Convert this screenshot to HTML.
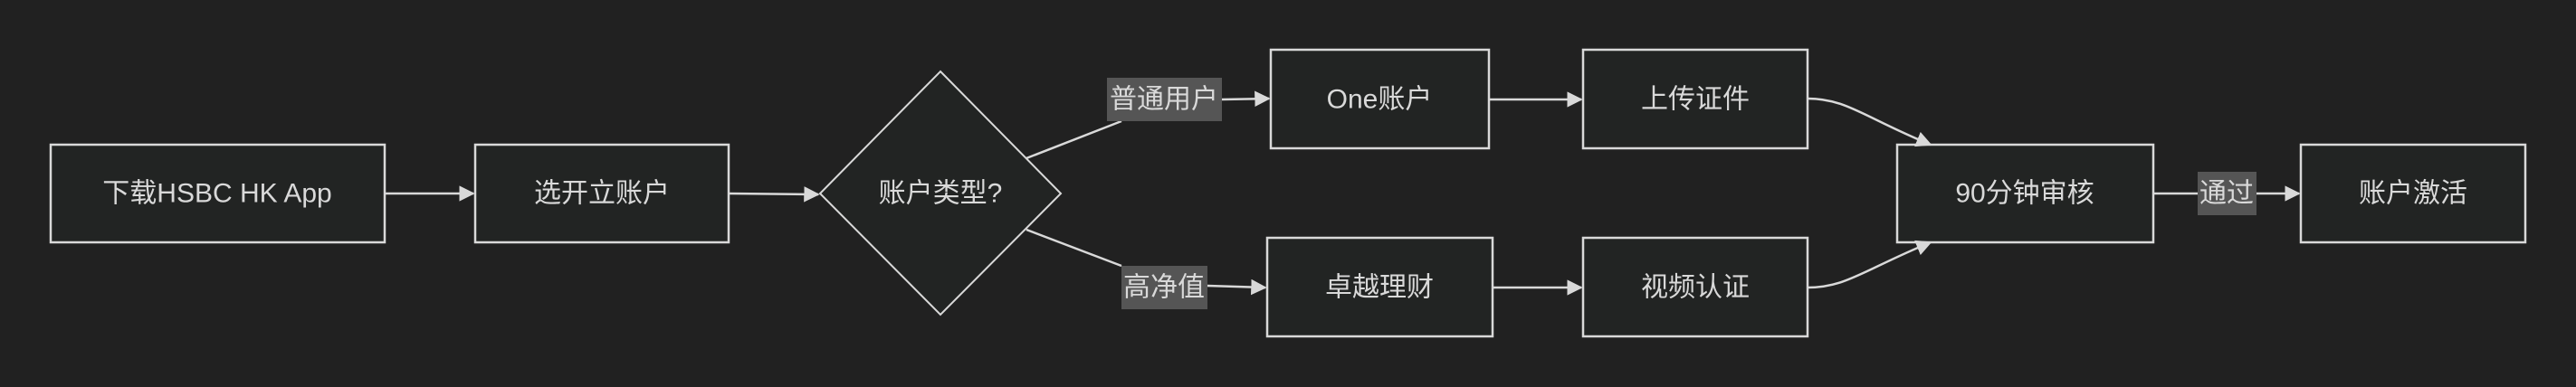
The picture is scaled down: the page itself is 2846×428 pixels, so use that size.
<!DOCTYPE html>
<html><head><meta charset="utf-8"><style>
html,body{margin:0;padding:0;background:#212121;}
svg{display:block}
text{font-family:"Liberation Sans","Noto Sans CJK SC",sans-serif;font-size:30px;fill:#d9d9d9;text-anchor:middle;dominant-baseline:central}
</style></head><body>
<svg width="2846" height="428" viewBox="0 0 2846 428" xmlns="http://www.w3.org/2000/svg">
<defs><marker id="a" viewBox="0 0 10 10" refX="9" refY="5" markerWidth="7" markerHeight="7" orient="auto"><path d="M0,0L10,5L0,10z" fill="#d9d9d9"/></marker></defs>
<g fill="#222423" stroke="#d9d9d9" stroke-width="2.5">
<rect x="56" y="160" width="369" height="108"/>
<rect x="525" y="160" width="280" height="108"/>
<polygon points="1039,79 1172,214 1039,348 906,214" stroke-width="2"/>
<rect x="1404" y="55" width="241" height="109"/>
<rect x="1400" y="263" width="249" height="109"/>
<rect x="1749" y="55" width="248" height="109"/>
<rect x="1749" y="263" width="248" height="109"/>
<rect x="2096" y="160" width="283" height="108"/>
<rect x="2542" y="160" width="248" height="108"/>
</g>
<g stroke="#d9d9d9" stroke-width="2.5" fill="none">
<line x1="425" y1="214" x2="523" y2="214" marker-end="url(#a)"/>
<line x1="805" y1="214" x2="904" y2="215" marker-end="url(#a)"/>
<line x1="1134" y1="175" x2="1239" y2="134"/>
<line x1="1350" y1="110" x2="1402" y2="109" marker-end="url(#a)"/>
<line x1="1134" y1="254" x2="1239" y2="294"/>
<line x1="1334" y1="316" x2="1398" y2="318" marker-end="url(#a)"/>
<line x1="1645" y1="110" x2="1747" y2="110" marker-end="url(#a)"/>
<line x1="1649" y1="318" x2="1747" y2="318" marker-end="url(#a)"/>
<path d="M1997,109 C2040,109 2060,130 2133,160" marker-end="url(#a)"/>
<path d="M1997,318 C2040,318 2060,298 2133,268" marker-end="url(#a)"/>
<line x1="2379" y1="214" x2="2540" y2="214" marker-end="url(#a)"/>
</g>
<g fill="#555">
<rect x="1223" y="86" width="127" height="48"/>
<rect x="1239" y="294" width="95" height="48"/>
<rect x="2428" y="190" width="65" height="48"/>
</g>
<text x="240" y="214">下载HSBC HK App</text>
<text x="665" y="214">选开立账户</text>
<text x="1039" y="214">账户类型?</text>
<text x="1286" y="110">普通用户</text>
<text x="1286" y="318">高净值</text>
<text x="1524" y="110">One账户</text>
<text x="1524" y="318">卓越理财</text>
<text x="1873" y="110">上传证件</text>
<text x="1873" y="318">视频认证</text>
<text x="2237" y="214">90分钟审核</text>
<text x="2460" y="214">通过</text>
<text x="2666" y="214">账户激活</text>
</svg>
</body></html>
